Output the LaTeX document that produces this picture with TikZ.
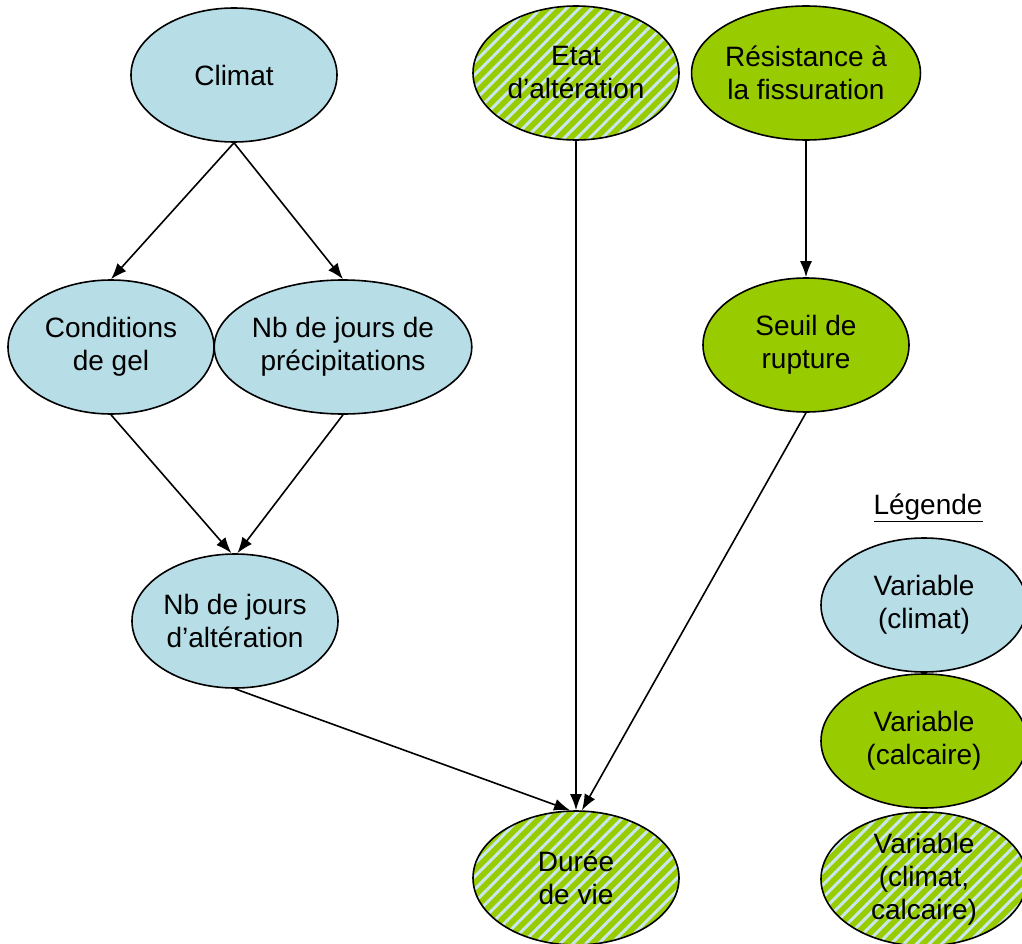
\documentclass[tikz,border=0pt]{standalone}
\usepackage{fontspec}
\setmainfont{Liberation Sans}
\usetikzlibrary{shapes.geometric,arrows.meta,patterns.meta}
\definecolor{climatblue}{RGB}{183,221,230}
\definecolor{calcgreen}{RGB}{153,204,0}
\definecolor{stripeblue}{RGB}{200,230,238}
\begin{document}
\begin{tikzpicture}[x=1pt,y=-1pt,line cap=round,line join=round,
  varnode/.style={ellipse,draw=black,line width=1.6pt,minimum width=206pt,
    minimum height=134pt,inner sep=0pt,align=center,
    font=\fontsize{28}{33}\selectfont},
  climatnode/.style={varnode,fill=climatblue},
  calcnode/.style={varnode,fill=calcgreen},
  mixednode/.style={varnode,preaction={fill=calcgreen},
    pattern={Lines[angle=45,distance=9pt,line width=3pt]},pattern color=stripeblue},
  link/.style={-{Latex[length=16pt,width=12pt]},line width=1.6pt}]
  \useasboundingbox (0,0) rectangle (1022,944);
  \node[climatnode] (clim) at (234,75) {Climat};
  \node[mixednode] (etat) at (576,73) {Etat\\d'altération};
  \node[calcnode] (resist) at (806,73) {Résistance à\\la fissuration};
  \node[climatnode] (gel) at (111,347) {Conditions\\de gel};
  \node[climatnode] (precip) at (343,347) {Nb de jours de\\précipitations};
  \node[calcnode] (seuil) at (806,345) {Seuil de\\rupture};
  \node[climatnode] (nbalt) at (235,621) {Nb de jours\\d'altération};
  \node[mixednode] (duree) at (576,878) {Durée\\de vie};
  \node[font=\fontsize{28}{33}\selectfont] (legtitle) at (928,508) {\underline{Légende}};
  \foreach \kind/\name/\ypos/\legtext in {
    climatnode/legclim/605/{Variable\\(climat)},
    calcnode/legcalc/741/{Variable\\(calcaire)},
    mixednode/legmix/879/{Variable\\(climat,\\calcaire)}}
    \node[\kind] (\name) at (924,\ypos) {\legtext};
  \draw[link] (clim.south) -- (gel.north);
  \draw[link] (clim.south) -- (precip.north);
  \draw[link] (gel.south) -- (nbalt.93);
  \draw[link] (precip.south) -- (nbalt.88);
  \draw[link] (nbalt.south) -- (duree.95);
  \draw[link] (etat.south) -- (duree.north);
  \draw[link] (resist.south) -- (seuil.north);
  \draw[link] (seuil.south) -- (duree.85);
\end{tikzpicture}
\end{document}
